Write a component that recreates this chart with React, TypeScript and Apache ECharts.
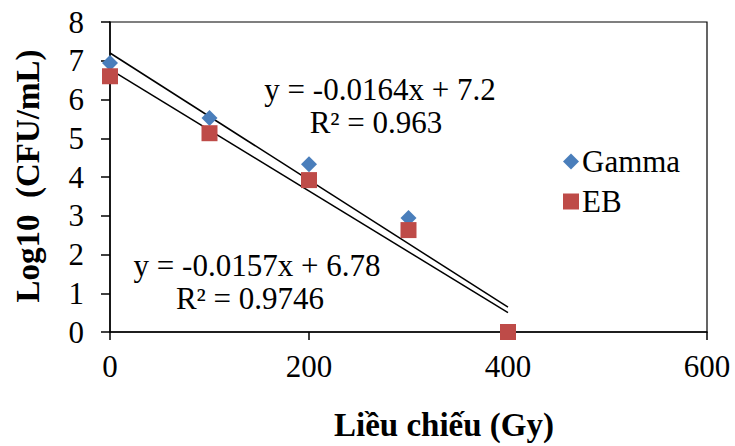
import React, { useEffect, useRef } from "react";
import * as echarts from "echarts";

const doses = [0, 100, 200, 300, 400];
const gammaValues = [6.94, 5.52, 4.33, 2.94, 0];
const ebValues = [6.6, 5.13, 3.92, 2.63, 0];
const gammaFit = { slope: -0.0164, intercept: 7.2, r2: "0.963" };
const ebFit = { slope: -0.0157, intercept: 6.78, r2: "0.9746" };
const fitRange = [0, 400];
const xTicks = { min: 0, max: 600, interval: 200 };
const yTicks = { min: 0, max: 8, interval: 1 };

const FONT = "'Liberation Serif', 'Times New Roman', serif";
const FS = 31;

export default function App() {
  const ref = useRef<HTMLDivElement>(null);
  useEffect(() => {
    if (!ref.current) return;
    const chart = echarts.init(ref.current, undefined, { renderer: "svg" });
    const fitLine = (f: { slope: number; intercept: number }) =>
      fitRange.map((x) => [x, +(f.slope * x + f.intercept).toFixed(4)]);
    const txt = (text: string, x: number, y: number, bold = false, rotation = 0) => ({
      type: "text",
      x,
      y,
      rotation,
      style: {
        text,
        fontFamily: FONT,
        fontSize: bold ? 33 : FS,
        fontWeight: bold ? "bold" : "normal",
        fill: "#000",
        align: "center",
        verticalAlign: "middle",
      },
    });
    chart.setOption({
      animation: false,
      backgroundColor: "#fff",
      textStyle: { fontFamily: FONT },
      grid: {
        left: 110,
        right: 28,
        top: 22,
        bottom: 114,
        show: true,
        borderColor: "#000",
        borderWidth: 1.2,
      },
      legend: {
        data: ["Gamma", "EB"],
        orient: "vertical",
        left: 563,
        top: 146,
        padding: 0,
        itemGap: 9,
        itemWidth: 16,
        itemHeight: 16,
        textStyle: { fontFamily: FONT, fontSize: FS, color: "#000", padding: [0, 0, 0, -2] },
      },
      xAxis: {
        type: "value",
        min: xTicks.min,
        max: xTicks.max,
        interval: xTicks.interval,
        splitLine: { show: false },
        axisLine: { lineStyle: { color: "#000", width: 1.5 } },
        axisTick: { show: true, length: 8, lineStyle: { color: "#000", width: 1.5 } },
        axisLabel: { color: "#000", fontSize: FS, fontFamily: FONT, margin: 19 },
      },
      yAxis: {
        type: "value",
        min: yTicks.min,
        max: yTicks.max,
        interval: yTicks.interval,
        splitLine: { show: false },
        axisLine: { show: true, lineStyle: { color: "#000", width: 1.5 } },
        axisTick: { show: true, length: 9, lineStyle: { color: "#000", width: 1.5 } },
        axisLabel: { color: "#000", fontSize: FS, fontFamily: FONT, margin: 26 },
      },
      series: [
        {
          name: "gammaFit",
          type: "line",
          data: fitLine(gammaFit),
          symbol: "none",
          lineStyle: { color: "#000", width: 1.5 },
          z: 1,
        },
        {
          name: "ebFit",
          type: "line",
          data: fitLine(ebFit),
          symbol: "none",
          lineStyle: { color: "#000", width: 1.5 },
          z: 1,
        },
        {
          name: "Gamma",
          type: "scatter",
          data: doses.map((d, i) => [d, gammaValues[i]]),
          symbol: "diamond",
          symbolSize: 16,
          itemStyle: { color: "#4A7EBB", opacity: 1 },
          z: 3,
        },
        {
          name: "EB",
          type: "scatter",
          data: doses.map((d, i) => [d, ebValues[i]]),
          symbol: "rect",
          symbolSize: 16,
          itemStyle: { color: "#BE4B48", opacity: 1 },
          z: 4,
        },
      ],
      graphic: [
        txt(`y = ${gammaFit.slope}x + ${gammaFit.intercept}`, 380, 89),
        txt(`R² = ${gammaFit.r2}`, 376, 122),
        txt(`y = ${ebFit.slope}x + ${ebFit.intercept}`, 257, 265),
        txt(`R² = ${ebFit.r2}`, 250, 298),
        txt("Liều chiếu (Gy)", 444, 425, true),
        txt("Log10  (CFU/mL)", 28, 176, true, Math.PI / 2),
      ],
    });
    return () => chart.dispose();
  }, []);
  return <div ref={ref} style={{ width: 735, height: 446, position: "absolute", left: 0, top: 0 }} />;
}
